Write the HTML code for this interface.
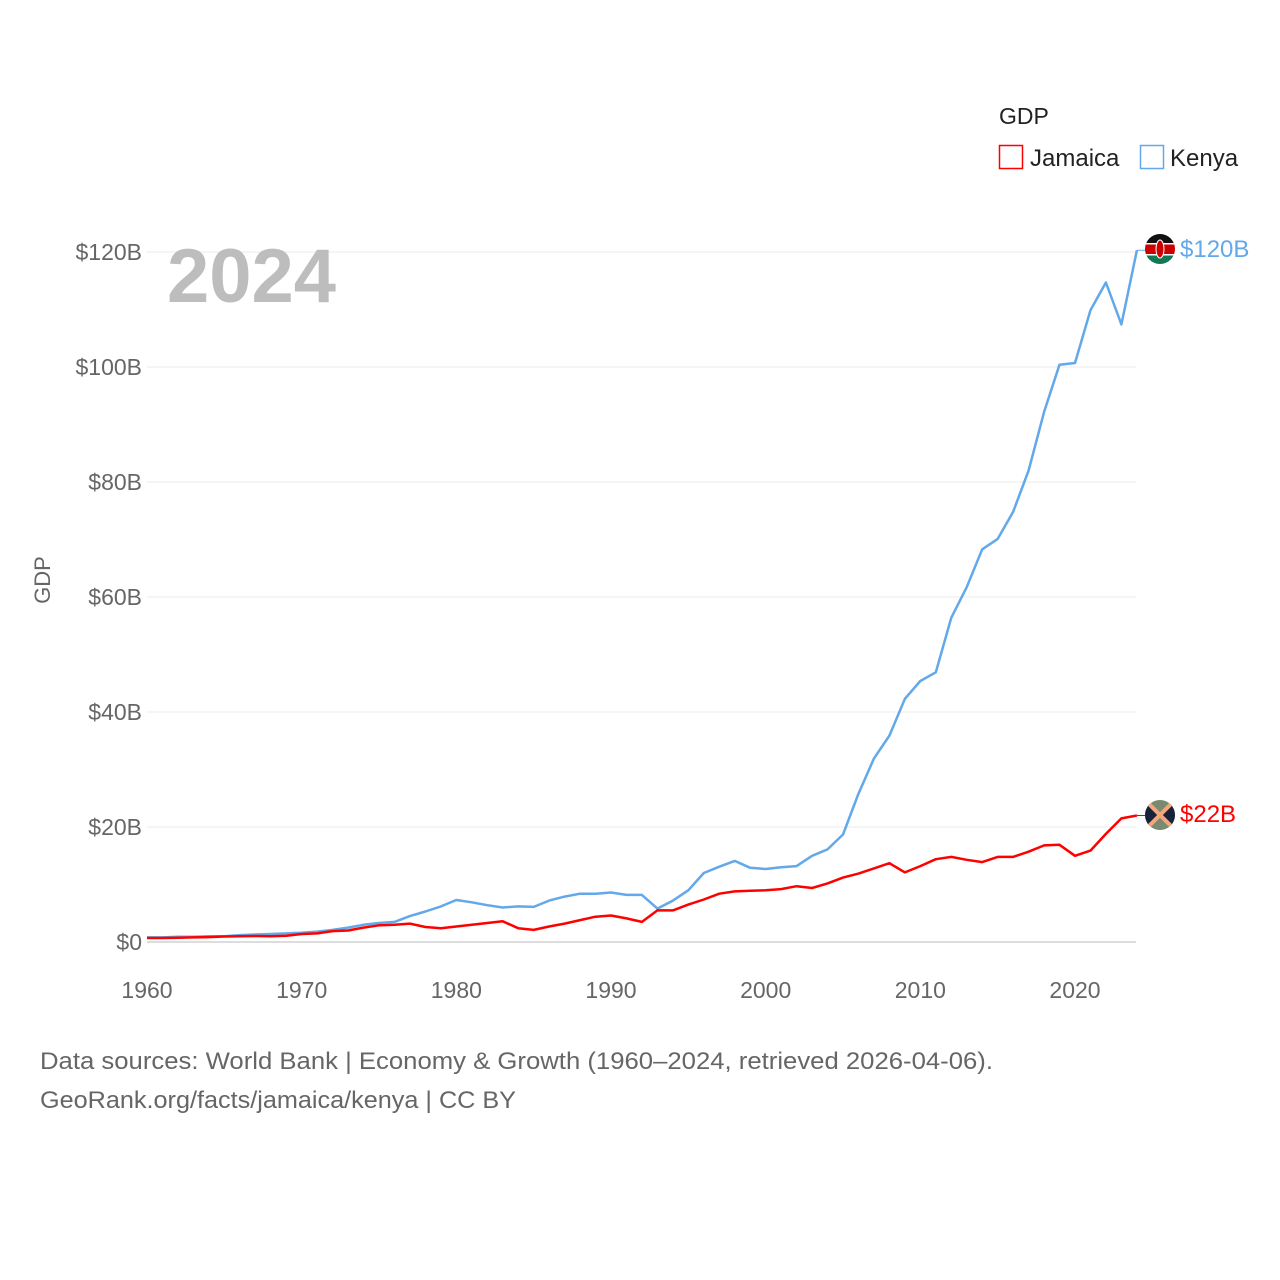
<!DOCTYPE html>
<html><head><meta charset="utf-8"><style>
body{margin:0;background:#fff;font-family:"Liberation Sans",sans-serif}
svg{display:block}
</style></head><body>
<svg id="chart" width="1280" height="1280" xmlns="http://www.w3.org/2000/svg" font-family="Liberation Sans, sans-serif">
<g id="grid"></g>
<g id="yticks"></g>
<g id="xticks"></g>
<text x="167" y="302" font-size="76" font-weight="bold" fill="#bdbdbd">2024</text>
<text transform="translate(50,580) rotate(-90)" text-anchor="middle" font-size="22" fill="#666">GDP</text>
<g id="series"></g>
<g>
<text x="999" y="124" font-size="23" fill="#222">GDP</text>
<g><rect x="999.5" y="145.5" width="23" height="23" fill="none" stroke="#f00" stroke-width="1.5"/><text x="1030" y="166" font-size="24" fill="#222">Jamaica</text></g>
<g><rect x="1140.5" y="145.5" width="23" height="23" fill="none" stroke="#62a8ea" stroke-width="1.5"/><text x="1170" y="166" font-size="24" fill="#222">Kenya</text></g>
</g>
<g>
<clipPath id="ck"><circle cx="1160" cy="249" r="15"/></clipPath>
<g clip-path="url(#ck)"><rect x="1145" y="234" width="30" height="10" fill="#111"/><rect x="1145" y="244" width="30" height="10" fill="#c00"/><rect x="1145" y="254" width="30" height="10" fill="#175"/><rect x="1145" y="243" width="30" height="1.5" fill="#fff"/><rect x="1145" y="254" width="30" height="1.5" fill="#fff"/><ellipse cx="1160" cy="249" rx="4" ry="9" fill="#c00" stroke="#fff"/></g>
</g>
<g>
<clipPath id="cj"><circle cx="1160" cy="815" r="15"/></clipPath>
<g clip-path="url(#cj)"><rect x="1145" y="800" width="30" height="30" fill="#7a8a70"/><polygon points="1145,800 1160,815 1145,830" fill="#16233b"/><polygon points="1175,800 1160,815 1175,830" fill="#16233b"/><line x1="1145" y1="800" x2="1175" y2="830" stroke="#f3a77b" stroke-width="4"/><line x1="1175" y1="800" x2="1145" y2="830" stroke="#f3a77b" stroke-width="4"/></g>
</g>
<text x="1180" y="257" font-size="24" fill="#62a8ea">$120B</text>
<text x="1180" y="822" font-size="24" fill="#f00">$22B</text>
<text x="40" y="1069" font-size="24" fill="#666" textLength="953" lengthAdjust="spacingAndGlyphs">Data sources: World Bank | Economy &amp; Growth (1960–2024, retrieved 2026-04-06).</text>
<text x="40" y="1108" font-size="24" fill="#666" textLength="476" lengthAdjust="spacingAndGlyphs">GeoRank.org/facts/jamaica/kenya | CC BY</text>
</svg>
<script>
const years = [];
for (let y = 1960; y <= 2024; y++) years.push(y);
const jamaica = [0.7,0.7,0.75,0.8,0.85,0.95,1.0,1.05,1.0,1.1,1.4,1.5,1.9,2.0,2.5,2.9,3.0,3.2,2.6,2.4,2.7,3.0,3.3,3.6,2.4,2.1,2.7,3.2,3.8,4.4,4.6,4.1,3.5,5.5,5.5,6.5,7.4,8.4,8.8,8.9,9.0,9.2,9.7,9.4,10.2,11.2,11.9,12.8,13.7,12.1,13.2,14.4,14.8,14.3,13.9,14.8,14.8,15.7,16.8,16.9,15.0,15.9,18.8,21.5,22.0];
const kenya = [0.8,0.8,0.9,0.9,1.0,1.0,1.2,1.3,1.4,1.5,1.6,1.8,2.1,2.5,3.0,3.3,3.5,4.5,5.3,6.2,7.3,6.9,6.4,6.0,6.2,6.1,7.2,7.9,8.4,8.4,8.6,8.2,8.2,5.8,7.2,9.0,12.0,13.1,14.1,12.9,12.7,13.0,13.2,15.0,16.1,18.7,25.8,31.9,35.9,42.3,45.4,46.9,56.4,61.7,68.3,70.1,74.8,82.0,92.2,100.4,100.7,109.9,114.7,107.4,120.3];
const yTicks = [0,20,40,60,80,100,120];
const yTickLabels = ["$0","$20B","$40B","$60B","$80B","$100B","$120B"];
const xTicks = [1960,1970,1980,1990,2000,2010,2020];

const NS = "http://www.w3.org/2000/svg";
const xS = y => 147 + (y - 1960) * (928 / 60);
const yS = v => 942 - v * (690 / 120);
function mk(tag, attrs, parent) {
  const e = document.createElementNS(NS, tag);
  for (const k in attrs) e.setAttribute(k, attrs[k]);
  parent.appendChild(e);
  return e;
}
const grid = document.getElementById('grid'), yt = document.getElementById('yticks'), xt = document.getElementById('xticks'), ser = document.getElementById('series');
yTicks.forEach((v, i) => {
  const l = mk('line', {x1: 147, x2: 1136, y1: yS(v), y2: yS(v), stroke: v === 0 ? '#ddd' : '#ebebeb', 'stroke-width': v === 0 ? 2 : 1}, grid);
  
  
  const t = mk('text', {x: 142, y: yS(v) + 8, 'text-anchor': 'end', 'font-size': 23, fill: '#666'}, yt);
  t.textContent = yTickLabels[i];
  
  
});
xTicks.forEach(y => {
  const t = mk('text', {x: xS(y), y: 998, 'text-anchor': 'middle', 'font-size': 23, fill: '#666'}, xt);
  t.textContent = y;
  
  
});
function line(data, color, name) {
  const d = data.map((v, i) => (i ? 'L' : 'M') + xS(years[i]).toFixed(1) + ',' + yS(v).toFixed(1)).join('');
  const p = mk('path', {d: d, fill: 'none', stroke: color, 'stroke-width': 2.5, 'stroke-linejoin': 'round'}, ser);
  
  
  const last = data[data.length - 1];
  const c = mk('line', {x1: xS(2024), y1: yS(last), x2: 1150, y2: yS(last), stroke: color, 'stroke-width': 1}, ser);
  
  
}
line(kenya, '#62a8ea', 'kenya-line');
line(jamaica, '#ff0000', 'jamaica-line');
</script>
</body></html>
